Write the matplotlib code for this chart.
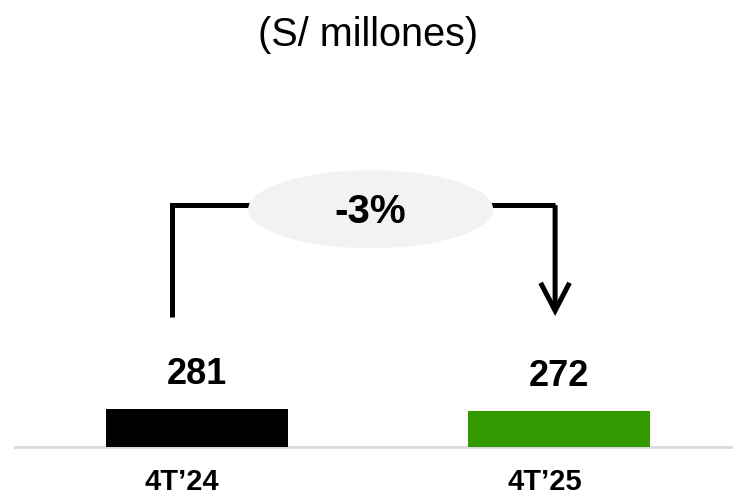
import matplotlib.pyplot as plt
from matplotlib.patches import Ellipse, FancyArrowPatch

plt.rcParams['font.family'] = ['Liberation Sans', 'DejaVu Sans']

# Data
periods = ["4T\u201924", "4T\u201925"]
values = [281, 272]
colors = ["#000000", "#339900"]
change_label = "-3%"
title = "(S/ millones)"

fig = plt.figure(figsize=(7.33, 5), dpi=100)
ax = fig.add_axes([0, 53 / 500, 1, 447 / 500])

x = list(range(len(values)))
bars = ax.bar(x, values, width=0.503, color=colors, zorder=3)
ax.set_xlim(-0.543, 1.48)
ax.set_ylim(110, 2122)

# baseline
ax.axhline(110, xmin=0.02, xmax=1, color="#d9d9d9", lw=2, zorder=2, clip_on=False)

for s in ax.spines.values():
    s.set_visible(False)
ax.set_xticks([])
ax.set_yticks([])

# category labels (sit slightly left of the bar centres)
tr = ax.get_xaxis_transform()
for xi, lab in zip(x, periods):
    ax.annotate(lab, (xi - 0.04, 0), xycoords=tr, xytext=(0, -31),
                textcoords="offset points", ha="center", va="baseline",
                fontsize=21, fontweight="bold", annotation_clip=False)

# value labels
for xi, v in zip(x, values):
    ax.annotate(str(v), (xi, v), xytext=(0, 25), textcoords="offset points",
                ha="center", va="center", fontsize=26, fontweight="bold")

# bracket arrow showing the change
xl, xr = -0.068, 0.989
y_low, y_top = 0.29, 0.541
ax.plot([xl, xl, xr], [y_low, y_top, y_top], transform=tr, color="black",
        lw=3.6, solid_joinstyle="miter", solid_capstyle="butt", zorder=4)
arrow = FancyArrowPatch((xr, y_top), (xr, 0.293), transform=tr,
                        arrowstyle="->,head_length=1.0,head_width=0.52",
                        mutation_scale=20, color="black", lw=3.6,
                        joinstyle="miter", capstyle="butt", shrinkA=0, shrinkB=0, zorder=4)
ax.add_patch(arrow)
ax.add_patch(Ellipse((0.48, 0.532), 0.676, 0.1745, transform=tr,
                     facecolor="#f2f2f2", edgecolor="none", zorder=5))
ax.text(0.48, 0.526, change_label, transform=tr, ha="center", va="center",
        fontsize=29, fontweight="bold", zorder=6)

fig.text(0.5026, 0.93, title, ha="center", va="center", fontsize=28.5)

fig.savefig("out.png", dpi=100)
